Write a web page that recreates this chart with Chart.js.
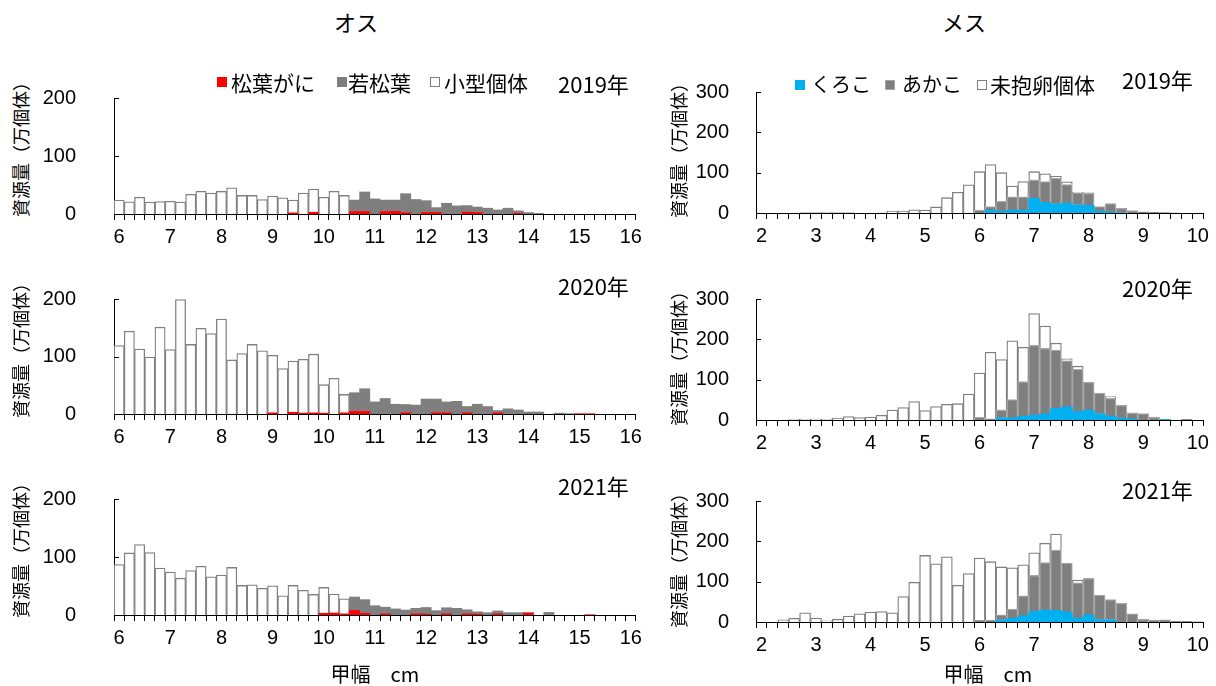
<!DOCTYPE html>
<html><head><meta charset="utf-8">
<script src="https://cdn.jsdelivr.net/npm/chart.js@4/dist/chart.umd.min.js"></script>
<style>
html,body{margin:0;padding:0;background:#fff;}
body{width:1216px;height:686px;position:relative;overflow:hidden;font-family:"Noto Sans CJK JP",sans-serif;color:#000;}
canvas{position:absolute;}
.t{position:absolute;white-space:nowrap;line-height:1;}
.sq{position:absolute;width:10px;height:10px;box-sizing:border-box;}
</style></head><body>
<script>
// ---- categories (size classes, cm) ----
const maleSizes = ['6','6.2','6.4','6.6','6.8','7','7.2','7.4','7.6','7.8','8','8.2','8.4','8.6','8.8','9','9.2','9.4','9.6','9.8','10','10.2','10.4','10.6','10.8','11','11.2','11.4','11.6','11.8','12','12.2','12.4','12.6','12.8','13','13.2','13.4','13.6','13.8','14','14.2','14.4','14.6','14.8','15','15.2','15.4','15.6','15.8','16'];
const femaleSizes = ['2','2.2','2.4','2.6','2.8','3','3.2','3.4','3.6','3.8','4','4.2','4.4','4.6','4.8','5','5.2','5.4','5.6','5.8','6','6.2','6.4','6.6','6.8','7','7.2','7.4','7.6','7.8','8','8.2','8.4','8.6','8.8','9','9.2','9.4','9.6','9.8','10'];
const maleYTicks = [0,100,200];
const femaleYTicks = [0,100,200,300];
const years = ['2019年','2020年','2021年'];
const maleLegend = ['松葉がに','若松葉','小型個体'];
const femaleLegend = ['くろこ','あかこ','未抱卵個体'];

// ---- male (オス) series, 万個体 ----
const maleRed2019 = [0,0,0,0,0,0,0,0,0,0, 0,0,0,0,0,0,0,2,0,3, 0,0,0,4,4,0,4,4.5,2,0, 2.5,2.5,0,0,3,2.5,0,0,0,1, 0,0,0,0,0,0,0,0,0,0, 0];
const maleGray2019 = [0,0,0,0,0,0,0,0,0,0, 0,0,0,0,0,0,0,0,0,0, 0,0,0,20,34,26,20,19.5,33,25, 20.5,8.5,18.5,14,11.5,9.5,10,7,10,4.5, 2.5,1,0,0,0,0,0,0,0,0, 0];
const maleWhite2019 = [24,21,29,20.5,21.5,22,20.5,34,39,36, 39,45,32,32,25,31,28,22,36,40, 29,39,32,0,0,0,0,0,0,0, 0,0,0,0,0,0,0,0,0,0, 0,0,0,0,0,0,0,0,0,0, 0];

const maleRed2020 = [0,0,0,0,0,0,0,0,0,0, 0,0,0,0,0,2,0,3,1.5,2, 1.5,0,2,4.5,4.5,0,0,0,2,0, 0,2,2,0,2,0,0,2,0,0, 0,0,0,0,0,0.5,0.5,0,0,0, 0];
const maleGray2020 = [0,0,0,0,0,0,0,0,0,0, 0,0,0,0,0,0,0,0,0,0, 0,0,0,32.5,39.5,21,27,17,14.5,15.5, 26,24,19,22,11,17,13,4,9,7, 3.5,3.5,0,1.5,0.5,0,0,0,0,0, 0];
const maleWhite2020 = [119,144,113,99,151,112,199,121,149,140, 165,94,105,121,110,100,79,89,93.5,102, 49.5,62,32,0,0,0,0,0,0,0, 0,0,0,0,0,0,0,0,0,0, 0,0,0,0,0,0,0,0,0,0, 0];

const maleRed2021 = [0,0,0,0,0,0,0,0,0,0, 0,0,0,0,0,0,0,0,0,0, 3,3.5,2,8,3,0,2,0,0,2, 1.5,0,2,0,2,1.5,0,2,0,0, 3.5,0,0,0,0,0,0.5,0,0,0, 0];
const maleGray2021 = [0,0,0,0,0,0,0,0,0,0, 0,0,0,0,0,0,0,0,0,0, 0,0,0,23,23.5,16,11.5,10.5,8.5,9.5, 11.5,7.5,10.5,11.5,7,4,4,5,4,4, 0.5,0,4.5,0,0,0,0,0,0,0, 0];
const maleWhite2021 = [87,107,121.5,107.5,81,74,63.5,76.5,84,66, 69,82,51,52,46,50.5,33,51,42.5,35.5, 44.5,32.5,26,0,0,0,0,0,0,0, 0,0,0,0,0,0,0,0,0,0, 0,0,0,0,0,0,0,0,0,0, 0];

// ---- female (メス) series, 万個体 ----
const femaleBlue2019 = [0,0,0,0,0,0,0,0,0,0, 0,0,0,0,0,0,0,0,0,0, 0,7,4.5,7,7,36.5,26.5,23,24.5,20.5, 19,4.5,2.5,0.5,0,0,0,0,0,0, 0];
const femaleGray2019 = [0,0,0,0,0,0,0,0,0,0, 0,0,0,0,0,0,0,0,0,0, 7.5,9,24.5,33,33,45.5,51.5,63,46,29.5, 30,11.5,21,11,6,3,2,1,0,0, 0];
const femaleWhite2019 = [0,0,0,0,1,1,2,1,1,0, 0,0.5,4.5,4.5,8,7.5,15,38,51.5,70, 95,104,71,27,38,20.5,19,5,7,1.5, 1,0,0,0,0,0,0,0,0.5,0, 0];

const femaleBlue2020 = [0,0,0,0,0,0,0,0,0,0, 0,0,0,0,0,0,0,0,0,0, 0,0,5.5,4.5,9,12,15,29,32.5,21.5, 24.5,16,10,4.5,2.5,0,0,1,0,0, 0];
const femaleGray2020 = [0,0,0,0,0,0,0,0,0,0, 0,0,0,0,0,0,0,0,0,0, 7.5,3,19.5,46,86,173,162.5,144.5,114.5,104, 69,51,44,32,15,16,7,0.5,0,1.5, 0];
const femaleWhite2020 = [0,0,0,2,2,2,2,4.5,8.5,6, 7.5,11.5,24.5,31,45.5,23.5,33.5,39,40.5,64.5, 109,165,125,146,85,79,55.5,17,4.5,8, 0,0,4,0,0,0,0,0,0,0, 0];

const femaleBlue2021 = [0,0,0,0,0,0,0,0,0,0, 0,0,0,0,0,0,0,0,0,0, 0,0,5.5,9,15,26.5,29.5,29,25,10, 17.5,6,5.5,0,0,0,0,0,0,0, 0];
const femaleGray2021 = [0,0,0,0,0,0,0,0,0,0, 0,0,0,0,0,0,0,0,0,0, 4,4,12.5,23,50,89,118,149.5,121,87, 90.5,61,50,46.5,20.5,7,4.5,5.5,1.5,1.5, 0.5];
const femaleWhite2021 = [0,0,5.5,9,23,10,3,7,14.5,20.5, 24.5,26,23,63,98.5,165,144.5,161.5,91,120, 154.5,145.5,118.5,102.5,77,56,47.5,39.5,0,7, 0,0,0,0,0,0,0,0,0,0, 0];

// ---- styling ----
const RED = '#FF0000', GRAY = '#7F7F7F', BLUE = '#00B0F0', OUTLINE = '#808080', GRAY_OUTLINE = '#A6A6A6';
const NUMFONT = "'Liberation Sans', Arial, sans-serif";

const yTicksIn = {
  id: 'yTicksIn',
  afterDraw(chart) {
    const y = chart.scales.y, ctx = chart.ctx;
    ctx.save();
    ctx.strokeStyle = '#000'; ctx.lineWidth = 1;
    y.ticks.forEach(t => {
      const py = Math.round(y.getPixelForValue(t.value)) + 0.5;
      ctx.beginPath(); ctx.moveTo(y.right, py); ctx.lineTo(y.right + 5, py); ctx.stroke();
    });
    ctx.restore();
  }
};

const nz = a => a.map(v => v === 0 ? null : v);

function makeChart(sizes, series, g, yMax, yPad) {
  const AXW = 80, PT = 20, PR = 10, AXH = 45;
  const c = document.createElement('canvas');
  const w = (g.right - g.left) + AXW + PR;
  const h = (g.bottom - g.top) + PT + AXH;
  c.width = w; c.height = h;
  c.style.left = (g.left - AXW) + 'px';
  c.style.top = (g.top - PT) + 'px';
  c.style.width = w + 'px'; c.style.height = h + 'px';
  document.body.appendChild(c);
  new Chart(c, {
    type: 'bar',
    data: {
      labels: sizes,
      datasets: series.map(s => ({
        data: nz(s.data),
        backgroundColor: s.bg,
        borderColor: s.bc || s.bg,
        borderWidth: s.bw || 0,
        categoryPercentage: 1,
        barPercentage: 1
      }))
    },
    options: {
      responsive: false, animation: false, devicePixelRatio: 1,
      layout: { padding: { top: PT, right: PR, left: 0, bottom: 0 }, autoPadding: false },
      plugins: { legend: { display: false }, tooltip: { enabled: false } },
      scales: {
        x: {
          stacked: true, offset: true,
          grid: { display: true, offset: true, drawOnChartArea: false, drawTicks: true, tickLength: 6, color: '#000', lineWidth: 1 },
          border: { display: true, color: '#000', width: 1 },
          ticks: {
            autoSkip: false, maxRotation: 0, minRotation: 0, padding: 5, color: '#000',
            font: { family: NUMFONT, size: 20 },
            callback: (v, i) => Number.isInteger(Number(sizes[i])) ? sizes[i] : ''
          },
          afterFit: s => { s.height = AXH; }
        },
        y: {
          stacked: true, min: 0, max: yMax,
          grid: { display: false },
          border: { display: true, color: '#000', width: 1 },
          ticks: { stepSize: 100, padding: yPad, color: '#000', font: { family: NUMFONT, size: 20 } },
          afterFit: s => { s.width = AXW; }
        }
      }
    },
    plugins: [yTicksIn]
  });
}

const maleGeom = [
  { left: 114, right: 637, top: 76, bottom: 214 },
  { left: 114, right: 637, top: 277, bottom: 414 },
  { left: 114, right: 637, top: 477, bottom: 615 }
];
const femaleGeom = [
  { left: 756, right: 1204, top: 81, bottom: 213 },
  { left: 756, right: 1204, top: 288, bottom: 420 },
  { left: 756, right: 1204, top: 490, bottom: 622 }
];
const maleData = [
  [maleRed2019, maleGray2019, maleWhite2019],
  [maleRed2020, maleGray2020, maleWhite2020],
  [maleRed2021, maleGray2021, maleWhite2021]
];
const femaleData = [
  [femaleBlue2019, femaleGray2019, femaleWhite2019],
  [femaleBlue2020, femaleGray2020, femaleWhite2020],
  [femaleBlue2021, femaleGray2021, femaleWhite2021]
];

for (let k = 0; k < 3; k++) {
  const [r, gr, wh] = maleData[k];
  makeChart(maleSizes, [
    { data: r, bg: RED },
    { data: gr, bg: GRAY },
    { data: wh, bg: '#FFFFFF', bc: OUTLINE, bw: 1.3 }
  ], maleGeom[k], maleYTicks[maleYTicks.length - 1], 30);
  const [b, fg, fw] = femaleData[k];
  makeChart(femaleSizes, [
    { data: b, bg: BLUE },
    { data: fg, bg: GRAY, bc: GRAY_OUTLINE, bw: 1.3 },
    { data: fw, bg: '#FFFFFF', bc: OUTLINE, bw: 1.3 }
  ], femaleGeom[k], femaleYTicks[femaleYTicks.length - 1], 19);
}

// ---- text elements ----
function text(str, css) {
  const d = document.createElement('div');
  d.className = 't';
  d.textContent = str;
  Object.assign(d.style, css);
  document.body.appendChild(d);
  return d;
}
function square(css) {
  const d = document.createElement('div');
  d.className = 'sq';
  Object.assign(d.style, css);
  document.body.appendChild(d);
}

// titles
text('オス', { left: '334px', top: '10px', fontSize: '22px' });
text('メス', { left: '942px', top: '10px', fontSize: '22px' });

// year labels (right aligned)
const maleYearY = [72, 274, 474];
const femaleYearY = [68, 276, 478];
for (let k = 0; k < 3; k++) {
  const a = text(years[k], { top: maleYearY[k] + 'px', fontSize: '22px' });
  a.style.left = (629 - a.offsetWidth) + 'px';
  const b = text(years[k], { top: femaleYearY[k] + 'px', fontSize: '22px' });
  b.style.left = (1193 - b.offsetWidth) + 'px';
}

// legends
square({ left: '217px', top: '77px', background: RED });
text(maleLegend[0], { left: '231px', top: '72px', fontSize: '21px' });
square({ left: '337px', top: '77px', background: GRAY });
text(maleLegend[1], { left: '348px', top: '72px', fontSize: '21px' });
square({ left: '430px', top: '77px', background: '#fff', border: '1.5px solid ' + GRAY });
text(maleLegend[2], { left: '444px', top: '72px', fontSize: '21px' });

square({ left: '795px', top: '80px', background: BLUE });
text(femaleLegend[0], { left: '811px', top: '74px', fontSize: '20px' });
square({ left: '885px', top: '80px', background: GRAY, border: '1px solid ' + GRAY_OUTLINE });
text(femaleLegend[1], { left: '902px', top: '74px', fontSize: '20px' });
square({ left: '977px', top: '80px', background: '#fff', border: '1.5px solid ' + GRAY });
text(femaleLegend[2], { left: '990px', top: '74px', fontSize: '21px' });

// y-axis titles (rotated)
function ytitle(cx, cy) {
  const d = text('資源量（万個体）', { fontSize: '18px' });
  const w = d.offsetWidth, h = d.offsetHeight;
  d.style.left = (cx - w / 2) + 'px';
  d.style.top = (cy - h / 2) + 'px';
  d.style.transform = 'rotate(-90deg)';
}
[145, 346, 546].forEach(cy => ytitle(20, cy));
[146, 354, 556].forEach(cy => ytitle(678, cy));

// x-axis titles
function xtitle(cx) {
  const d = text('甲幅　cm', { top: '664px', fontSize: '20px' });
  d.style.left = (cx - d.offsetWidth / 2) + 'px';
}
xtitle(375);
xtitle(988);
</script>
</body></html>
